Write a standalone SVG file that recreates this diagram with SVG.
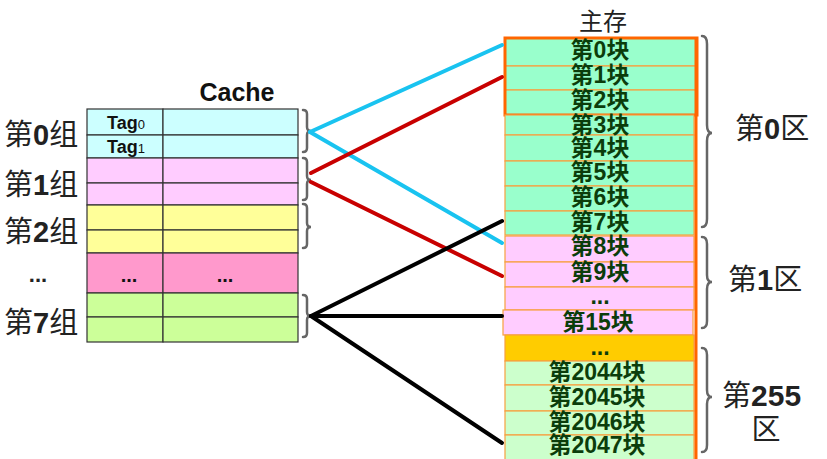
<svg xmlns="http://www.w3.org/2000/svg" width="827" height="459" viewBox="0 0 827 459">
<style>
.lbl{font-family:"Liberation Sans","Noto Sans CJK SC",sans-serif;font-size:29px;fill:#222}
.b{font-weight:bold}
.blk{font-family:"Liberation Sans","Noto Sans CJK SC",sans-serif;font-size:23px;font-weight:bold;fill:#0b3d0b;text-anchor:middle}
.cell{stroke:#333;stroke-width:1.2}
.mrow{stroke:#F7A040;stroke-width:1.2}
.brace{fill:none;stroke:#666;stroke-width:2.5;stroke-linecap:round}
.tag{font-family:"Liberation Sans",sans-serif;font-size:18px;font-weight:bold;fill:#111;text-anchor:middle}
</style>
<rect width="827" height="459" fill="#fff"/>

<g id="cache">
<text x="237" y="101" font-family="Liberation Sans,sans-serif" font-size="25" font-weight="bold" text-anchor="middle" fill="#111">Cache</text>
<g id="set0">
<rect class="cell" x="87" y="109" width="76" height="26" fill="#CCFFFF"/><rect class="cell" x="163" y="109" width="135" height="26" fill="#CCFFFF"/>
<rect class="cell" x="87" y="135" width="76" height="23" fill="#CCFFFF"/><rect class="cell" x="163" y="135" width="135" height="23" fill="#CCFFFF"/>
<text class="tag" x="126" y="129">Tag<tspan font-size="13" font-weight="normal">0</tspan></text>
<text class="tag" x="126" y="153">Tag<tspan font-size="13" font-weight="normal">1</tspan></text>
</g>
<g id="set1">
<rect class="cell" x="87" y="158" width="76" height="25" fill="#FFCCFF"/><rect class="cell" x="163" y="158" width="135" height="25" fill="#FFCCFF"/>
<rect class="cell" x="87" y="183" width="76" height="22" fill="#FFCCFF"/><rect class="cell" x="163" y="183" width="135" height="22" fill="#FFCCFF"/>
</g>
<g id="set2">
<rect class="cell" x="87" y="205" width="76" height="25" fill="#FFFF99"/><rect class="cell" x="163" y="205" width="135" height="25" fill="#FFFF99"/>
<rect class="cell" x="87" y="230" width="76" height="23" fill="#FFFF99"/><rect class="cell" x="163" y="230" width="135" height="23" fill="#FFFF99"/>
</g>
<g id="setdots">
<rect class="cell" x="87" y="253" width="76" height="40" fill="#FF99CC"/><rect class="cell" x="163" y="253" width="135" height="40" fill="#FF99CC"/>
<text x="129" y="282" font-family="Liberation Sans,sans-serif" font-size="20" font-weight="bold" text-anchor="middle" fill="#111">...</text>
<text x="225" y="282" font-family="Liberation Sans,sans-serif" font-size="20" font-weight="bold" text-anchor="middle" fill="#111">...</text>
</g>
<g id="set7">
<rect class="cell" x="87" y="293" width="76" height="24" fill="#CCFF99"/><rect class="cell" x="163" y="293" width="135" height="24" fill="#CCFF99"/>
<rect class="cell" x="87" y="317" width="76" height="25" fill="#CCFF99"/><rect class="cell" x="163" y="317" width="135" height="25" fill="#CCFF99"/>
</g>
</g>

<g id="set-labels">
<text class="lbl" x="4" y="145">第<tspan class="b">0</tspan>组</text>
<text class="lbl" x="4" y="195">第<tspan class="b">1</tspan>组</text>
<text class="lbl" x="4" y="242">第<tspan class="b">2</tspan>组</text>
<text x="38" y="282" font-family="Liberation Sans,sans-serif" font-size="22" font-weight="bold" text-anchor="middle" fill="#222">...</text>
<text class="lbl" x="4" y="333">第<tspan class="b">7</tspan>组</text>
</g>

<g id="set-braces">
<path class="brace" d="M303 110 Q307 110 307 114 L307 127 Q307 131 311 131 Q307 131 307 135 L307 148 Q307 152 303 152"/>
<path class="brace" d="M303 158 Q307 158 307 162 L307 176 Q307 180 311 180 Q307 180 307 184 L307 196 Q307 200 303 200"/>
<path class="brace" d="M303 204 Q307 204 307 208 L307 223 Q307 227 311 227 Q307 227 307 231 L307 244 Q307 248 303 248"/>
<path class="brace" d="M303 295 Q307 295 307 299 L307 312 Q307 316 311 316 Q307 316 307 320 L307 333 Q307 337 303 337"/>
</g>

<g id="memory">
<text x="603" y="30" font-family="Liberation Sans,Noto Sans CJK SC,sans-serif" font-size="24" text-anchor="middle" fill="#222">主存</text>
<g id="region0">
<rect class="mrow" x="505" y="38" width="192" height="28" fill="#99FFCC"/>
<rect class="mrow" x="505" y="66" width="192" height="24" fill="#99FFCC"/>
<rect class="mrow" x="505" y="90" width="192" height="25" fill="#99FFCC"/>
<rect x="505" y="38" width="192" height="77" fill="none" stroke="#FF6600" stroke-width="3"/>
<rect class="mrow" x="505" y="115" width="189" height="20" fill="#99FFCC"/>
<rect class="mrow" x="505" y="135" width="189" height="26" fill="#99FFCC"/>
<rect class="mrow" x="505" y="161" width="189" height="25" fill="#99FFCC"/>
<rect class="mrow" x="505" y="186" width="189" height="25" fill="#99FFCC"/>
<rect class="mrow" x="505" y="211" width="189" height="24" fill="#99FFCC"/>
<text class="blk" x="600" y="58">第0块</text>
<text class="blk" x="600" y="83">第1块</text>
<text class="blk" x="600" y="108">第2块</text>
<text class="blk" x="600" y="133">第3块</text>
<text class="blk" x="600" y="156">第4块</text>
<text class="blk" x="600" y="180">第5块</text>
<text class="blk" x="600" y="205">第6块</text>
<text class="blk" x="600" y="230">第7块</text>
</g>
<g id="region1">
<rect class="mrow" x="505" y="236" width="189" height="26" fill="#FFCCFF"/>
<rect class="mrow" x="505" y="262" width="189" height="25" fill="#FFCCFF"/>
<rect class="mrow" x="505" y="287" width="189" height="23" fill="#FFCCFF"/>
<rect class="mrow" x="503" y="310" width="190" height="25" fill="#FFCCFF"/>
<text class="blk" x="600" y="254">第8块</text>
<text class="blk" x="600" y="280">第9块</text>
<text class="blk" x="600" y="304" font-size="18">...</text>
<text class="blk" x="598" y="330">第15块</text>
</g>
<g id="regiondots">
<rect class="mrow" x="505" y="335" width="189" height="26" fill="#FFCC00"/>
<text class="blk" x="600" y="355" font-size="18">...</text>
</g>
<g id="region255">
<rect class="mrow" x="505" y="361" width="189" height="24" fill="#CCFFCC"/>
<rect class="mrow" x="505" y="385" width="189" height="26" fill="#CCFFCC"/>
<rect class="mrow" x="505" y="411" width="189" height="24" fill="#CCFFCC"/>
<rect class="mrow" x="505" y="435" width="189" height="26" fill="#CCFFCC"/>
<text class="blk" x="597" y="380" font-size="24">第2044块</text>
<text class="blk" x="597" y="405" font-size="24">第2045块</text>
<text class="blk" x="597" y="430" font-size="24">第2046块</text>
<text class="blk" x="597" y="453" font-size="24">第2047块</text>
</g>
<line x1="696" y1="38" x2="696" y2="459" stroke="#FF6600" stroke-width="3"/>
</g>

<g id="region-braces">
<path class="brace" d="M702 36 Q707 36 707 44 L707 125 Q707 133 712 133 Q707 133 707 141 L707 219 Q707 227 702 227"/>
<path class="brace" d="M702 237 Q707 237 707 244 L707 275 Q707 282 712 282 Q707 282 707 289 L707 321 Q707 328 702 328"/>
<path class="brace" d="M702 348 Q707 348 707 355 L707 390 Q707 397 712 397 Q707 397 707 404 L707 445 Q707 452 702 452"/>
</g>

<g id="region-labels">
<text class="lbl" x="735" y="139" font-size="28">第<tspan class="b">0</tspan>区</text>
<text class="lbl" x="728" y="290" font-size="28">第<tspan class="b">1</tspan>区</text>
<text class="lbl" x="722" y="406" font-size="28">第<tspan class="b" font-size="30">255</tspan></text>
<text class="lbl" x="766" y="440" font-size="28" text-anchor="middle">区</text>
</g>

<g id="connectors" stroke-width="4" stroke-linecap="round" fill="none">
<line x1="310" y1="132" x2="502" y2="45" stroke="#19C3F0"/>
<line x1="310" y1="132" x2="502" y2="243" stroke="#19C3F0"/>
<line x1="311" y1="173" x2="502" y2="77" stroke="#C80000"/>
<line x1="311" y1="182" x2="502" y2="276" stroke="#C80000"/>
<line x1="311" y1="316" x2="502" y2="221" stroke="#000"/>
<line x1="311" y1="316" x2="502" y2="316" stroke="#000"/>
<line x1="311" y1="316" x2="502" y2="443" stroke="#000"/>
</g>
</svg>
